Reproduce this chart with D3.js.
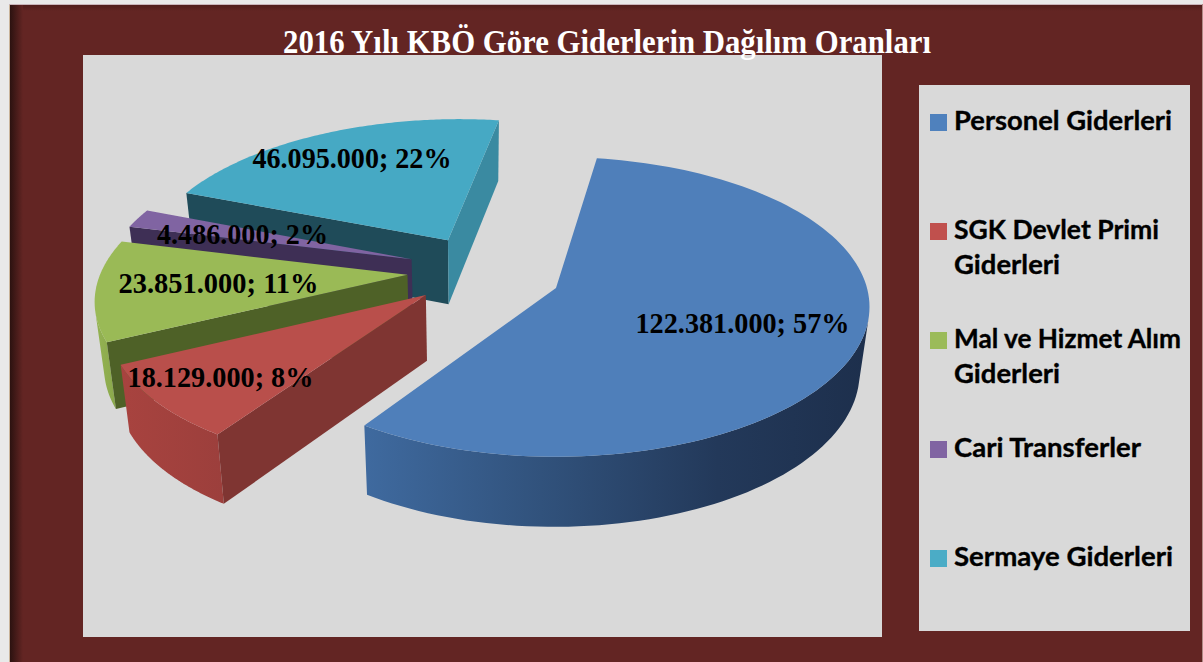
<!DOCTYPE html>
<html lang="tr">
<head>
<meta charset="utf-8">
<title>2016 Yılı KBÖ Göre Giderlerin Dağılım Oranları</title>
<script src="https://cdn.jsdelivr.net/npm/d3@7/dist/d3.min.js"></script>
<style>html,body{margin:0;padding:0;background:#e9e9e9;overflow:hidden}svg{display:block}</style>
</head>
<body>
<svg id="chart" width="1203" height="662"></svg>
<script>
// ---------- data ----------
const titleText = "2016 Yılı KBÖ Göre Giderlerin Dağılım Oranları";
const categories = ["Personel Giderleri", "SGK Devlet Primi Giderleri", "Mal ve Hizmet Alım Giderleri", "Cari Transferler", "Sermaye Giderleri"];
const legendLines = [["Personel Giderleri"], ["SGK Devlet Primi", "Giderleri"], ["Mal ve Hizmet Alım", "Giderleri"], ["Cari Transferler"], ["Sermaye Giderleri"]];
const values = [122381000, 18129000, 23851000, 4486000, 46095000];
const percentLabels = ["57%", "8%", "11%", "2%", "22%"];

// ---------- styles and layout ----------
const topColors = ["#4f7fba", "#b94f4b", "#9aba56", "#8064a2", "#46a9c4"];
const legendColors = ["#4f81bd", "#c0504d", "#9bbb59", "#8064a2", "#4bacc6"];
const rimStops = [
  [["0", "#3f6a9f"], ["0.35", "#31527c"], ["0.7", "#23395a"], ["1", "#1d2f4c"]],
  [["0", "#a8433f"], ["1", "#9c3f3c"]],
  [["0", "#94b352"], ["1", "#8aa84c"]],
  [["0", "#4a3a63"], ["1", "#4a3a63"]],
  [["0", "#2c7488"], ["1", "#2c7488"]]
];
const startWallColors = ["#2f4b72", "#7f3532", "#4e6127", "#3e2f55", "#1f4b59"];
const endWallColors = ["#2f4b72", "#7f3532", "#4e6127", "#3e2f55", "#3a8aa1"];
// Explosion of every slice in disc units (radius = 1), horizontal and depth.
const shiftU = [0, -0.416, -0.483, -0.476, -0.362];
const shiftV = [0, -0.048, 0.09, 0.2, 0.338];
const labelAnchors = [[742.5, 333], [220.5, 387], [218.5, 293], [242.5, 244], [352, 168]];
const labelWidths = [214, 186, 200, 171, 199];
const legendSwatchTop = [114, 223, 332, 441, 550];
const legendWidths = [[218], [205, 106], [227, 106], [187], [219]];

const view = {cx: 556, cy: 288, rx: 311, ry: 147.5, persp: 0.126, depth: 64, shrink: 0.975, shrinkX: 472};
const firstAngle = 8.5 * Math.PI / 180;

// ---------- drawing ----------
const svg = d3.select("#chart");
const defs = svg.append("defs");

// page and frame
svg.append("rect").attr("width", 1203).attr("height", 662).attr("fill", "#e9e9e9");
svg.append("rect").attr("x", 9).attr("y", 4).attr("width", 1193).attr("height", 658).attr("fill", "#c9b4ba");
svg.append("rect").attr("x", 9).attr("y", 5).attr("width", 1193).attr("height", 657).attr("fill", "#632523");
const shadeL = defs.append("linearGradient").attr("id", "shadeL");
shadeL.append("stop").attr("offset", "0").attr("stop-color", "#2c1210");
shadeL.append("stop").attr("offset", "1").attr("stop-color", "#632523");
svg.append("rect").attr("x", 10).attr("y", 5).attr("width", 13).attr("height", 657).attr("fill", "url(#shadeL)");
const shadeT = defs.append("linearGradient").attr("id", "shadeT").attr("x2", 0).attr("y2", 1);
shadeT.append("stop").attr("offset", "0").attr("stop-color", "#4f1d1b");
shadeT.append("stop").attr("offset", "1").attr("stop-color", "#632523");
svg.append("rect").attr("x", 23).attr("y", 5).attr("width", 1179).attr("height", 6).attr("fill", "url(#shadeT)");
svg.append("rect").attr("x", 9).attr("y", 5).attr("width", 1).attr("height", 657).attr("fill", "#c9b49a");
svg.append("rect").attr("x", 1202).attr("y", 4).attr("width", 1).attr("height", 658).attr("fill", "#b08a86");

// plot panel and legend panel
svg.append("rect").attr("x", 83).attr("y", 55).attr("width", 799).attr("height", 582).attr("fill", "#d9d9d9");
svg.append("rect").attr("x", 919).attr("y", 85).attr("width", 271).attr("height", 546).attr("fill", "#d9d9d9");

// title
svg.append("text").attr("x", 607).attr("y", 53).attr("text-anchor", "middle")
  .attr("font-family", "'Liberation Serif'").attr("font-weight", "bold").attr("font-size", 33)
  .attr("fill", "#ffffff").attr("textLength", 648).attr("lengthAdjust", "spacingAndGlyphs").text(titleText);

// pie angles from the values
const pie = d3.pie().sort(null).startAngle(firstAngle).endAngle(firstAngle + 2 * Math.PI);
const slices = pie(values);

// perspective projection of a disc point; lower = bottom face of the slab
function project(u, v, lower) {
  const s = 1 / (1 + view.persp * v);
  const x = view.cx + view.rx * u * s;
  const y = view.cy - view.ry * v * s;
  if (!lower) return [x, y];
  return [view.shrinkX + (x - view.shrinkX) * view.shrink, y + view.depth + 0.028 * (y - 240)];
}
const line = d3.line();
const polyPath = pts => line(pts) + "Z";

const layer = svg.append("g");
[4, 3, 2, 1, 0].forEach(i => {
  const d = slices[i];
  const ou = shiftU[i], ov = shiftV[i];
  const steps = d3.range(0, 121).map(k => d.startAngle + (d.endAngle - d.startAngle) * k / 120);
  const top = a => project(ou + Math.sin(a), ov + Math.cos(a), false);
  const bot = a => project(ou + Math.sin(a), ov + Math.cos(a), true);
  const apexTop = project(ou, ov, false), apexBot = project(ou, ov, true);
  const g = layer.append("g").attr("class", "slice").datum(d);

  // rim: keep the run of angles whose face looks towards the viewer
  // (d3.polygonArea is positive for counterclockwise order on screen)
  const visible = [];
  d3.pairs(steps).forEach(([a, b]) => {
    if (d3.polygonArea([top(a), top(b), bot(b), bot(a)]) > 0) {
      if (!visible.length) visible.push(a);
      visible.push(b);
    }
  });
  if (visible.length > 1) {
    const id = "rim" + i;
    const pts = visible.map(a => top(a)).concat(visible.map(a => bot(a)).reverse());
    const grad = defs.append("linearGradient").attr("id", id);
    rimStops[i].forEach(st => grad.append("stop").attr("offset", st[0]).attr("stop-color", st[1]));
    g.append("path").attr("d", polyPath(pts)).attr("fill", `url(#${id})`);
  }

  // radial walls with back-face culling
  const startWall = [apexTop, top(d.startAngle), bot(d.startAngle), apexBot];
  const endWall = [apexTop, top(d.endAngle), bot(d.endAngle), apexBot];
  if (d3.polygonArea(startWall) > 0) g.append("path").attr("d", polyPath(startWall)).attr("fill", startWallColors[i]);
  if (d3.polygonArea(endWall) < 0) g.append("path").attr("d", polyPath(endWall)).attr("fill", endWallColors[i]);

  // top face
  g.append("path").attr("d", polyPath([apexTop].concat(steps.map(a => top(a))))).attr("fill", topColors[i]);
});

// data labels
const fmt = d3.formatLocale({decimal: ",", thousands: ".", grouping: [3], currency: ["", ""]}).format(",d");
svg.append("g").selectAll("text").data(values).join("text")
  .attr("x", (v, i) => labelAnchors[i][0]).attr("y", (v, i) => labelAnchors[i][1])
  .attr("text-anchor", "middle")
  .attr("font-family", "'Liberation Serif'").attr("font-weight", "bold").attr("font-size", 30)
  .attr("textLength", (v, i) => labelWidths[i]).attr("lengthAdjust", "spacingAndGlyphs")
  .attr("fill", "#000000")
  .text((v, i) => fmt(v) + "; " + percentLabels[i]);

// legend
const legend = svg.append("g").selectAll("g").data(categories).join("g");
legend.append("rect").attr("x", 930).attr("y", (c, i) => legendSwatchTop[i])
  .attr("width", 17).attr("height", 17).attr("fill", (c, i) => legendColors[i]);
legend.each(function (c, i) {
  d3.select(this).selectAll("text").data(legendLines[i]).join("text")
    .attr("x", 954).attr("y", (t, k) => legendSwatchTop[i] + 16 + k * 35)
    .attr("font-family", "Lato").attr("font-weight", "bold").attr("font-size", 27)
    .attr("textLength", (t, k) => legendWidths[i][k]).attr("lengthAdjust", "spacingAndGlyphs")
    .attr("stroke", "#000000").attr("stroke-width", 0.35)
    .attr("fill", "#000000").text(t => t);
});
</script>
</body>
</html>
